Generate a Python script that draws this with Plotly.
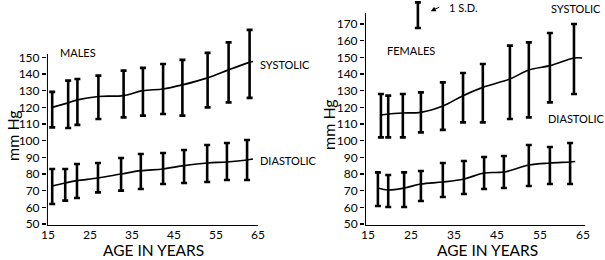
import plotly.graph_objects as go

# ---------------- data ----------------
# MALES
m_sys_age = [16, 19.8, 22, 27, 33, 37.6, 42.4, 47, 53, 58, 63]
m_sys_mean = [120, 122.7, 124.5, 126.5, 127, 130, 131, 133.5, 137.7, 142.5, 147]
m_sys_hi = [129.3, 136, 137, 139, 142, 143.7, 146, 148.5, 152.7, 159, 166.5]
m_sys_lo = [108, 107.6, 109.5, 113, 114, 115, 116, 115, 120, 123, 125.7]
m_sys_end = (63.8, 147.5)

m_dia_age = [16, 19.1, 21.9, 26.9, 32.4, 37.1, 42.4, 47.4, 52.9, 57.6, 62.4]
m_dia_mean = [72.8, 74.6, 76, 77.6, 80, 82, 83, 85, 86.6, 87.2, 88.4]
m_dia_hi = [83, 83, 86, 86.6, 89.6, 92, 92.6, 94.4, 97.4, 98.6, 100.4]
m_dia_lo = [62, 64, 65.6, 69, 70, 71, 74, 74.6, 75.2, 76.4, 76.4]
m_dia_end = (63.8, 89)

# FEMALES
f_sys_age = [18.0, 19.7, 23.1, 27.3, 32.4, 37.1, 41.7, 48.0, 52.4, 57.3, 62.9]
f_sys_mean = [115.4, 116, 116.6, 117, 120.8, 127, 132, 137, 142.4, 145, 149.6]
f_sys_hi = [128, 127, 128, 129, 135, 140.6, 146, 157, 159, 164.6, 170]
f_sys_lo = [102, 102, 102, 105, 106.5, 111, 111, 113, 114, 123, 128]
f_sys_end = (64.8, 149.6)

f_dia_age = [17.3, 19.7, 23.4, 27.3, 32.4, 37.3, 42.0, 46.6, 52.4, 57.3, 62.0]
f_dia_mean = [71.6, 70.4, 71.6, 74, 75.2, 77, 80.6, 81.2, 85.4, 86.6, 87.2]
f_dia_hi = [81, 79.4, 81, 81.8, 86.6, 87.8, 90.2, 90.8, 97.4, 96.2, 98.6]
f_dia_lo = [60.8, 60.2, 60.2, 63.8, 66.2, 68, 71, 71.6, 72.8, 74, 74]
f_dia_end = (63.2, 87.5)

# 1 S.D. key bar
sd_age = [26.6]
sd_hi = [183]
sd_lo = [167.6]

x_ticks = [15, 25, 35, 45, 55, 65]
m_y_ticks = [50, 60, 70, 80, 90, 100, 110, 120, 130, 140, 150]
f_y_ticks = [50, 60, 70, 80, 90, 100, 110, 120, 130, 140, 150, 160, 170]

FONT = "Lato"
fig = go.Figure()


def add_series(age, mean, hi, lo, end, xa, ya):
    fig.add_trace(go.Scatter(
        x=age + [end[0]], y=mean + [end[1]], mode="lines",
        line=dict(color="black", width=1.7, shape="spline", smoothing=1.0),
        xaxis=xa, yaxis=ya, hoverinfo="skip", showlegend=False))
    fig.add_trace(go.Scatter(
        x=age, y=mean, mode="markers",
        marker=dict(size=1, color="rgba(0,0,0,0)"),
        error_y=dict(type="data", symmetric=False,
                     array=[h - m for h, m in zip(hi, mean)],
                     arrayminus=[m - l for m, l in zip(mean, lo)],
                     color="black", thickness=2.6, width=3),
        xaxis=xa, yaxis=ya, hoverinfo="skip", showlegend=False))


add_series(m_sys_age, m_sys_mean, m_sys_hi, m_sys_lo, m_sys_end, "x", "y")
add_series(m_dia_age, m_dia_mean, m_dia_hi, m_dia_lo, m_dia_end, "x", "y")
add_series(f_sys_age, f_sys_mean, f_sys_hi, f_sys_lo, f_sys_end, "x2", "y2")
add_series(f_dia_age, f_dia_mean, f_dia_hi, f_dia_lo, f_dia_end, "x2", "y2")

# key bar
sd_mid = [(h + l) / 2 for h, l in zip(sd_hi, sd_lo)]
fig.add_trace(go.Scatter(
    x=sd_age, y=sd_mid, mode="markers",
    marker=dict(size=1, color="rgba(0,0,0,0)"),
    error_y=dict(type="data", symmetric=False,
                 array=[h - m for h, m in zip(sd_hi, sd_mid)],
                 arrayminus=[m - l for m, l in zip(sd_mid, sd_lo)],
                 color="black", thickness=2.6, width=3),
    xaxis="x2", yaxis="y2", hoverinfo="skip", showlegend=False, cliponaxis=False))

YR = [48.8, 184.4]
ydom = [1 - 226 / 260, 1.0]

xax_common = dict(showgrid=False, zeroline=False, showline=False, ticks="",
                  tickvals=x_ticks, tickfont=dict(family=FONT, size=12, color="black"),
                  fixedrange=True, automargin=False)
yax_common = dict(showgrid=False, zeroline=False, showline=False, ticks="outside",
                  ticklen=4, tickwidth=1.5, tickcolor="black", range=YR,
                  tickfont=dict(family=FONT, size=12, color="black"), fixedrange=True,
                  automargin=False)

fig.update_layout(
    width=605, height=260,
    margin=dict(l=0, r=0, t=0, b=0, autoexpand=False),
    paper_bgcolor="white", plot_bgcolor="white",
    xaxis=dict(domain=[46.95 / 605, 262.2 / 605], range=[14.75, 66.0], anchor="y", **xax_common),
    yaxis=dict(domain=ydom, anchor="x", tickvals=m_y_ticks, **yax_common),
    xaxis2=dict(domain=[365 / 605, 587.3 / 605], range=[14.3, 66.0], anchor="y2", **xax_common),
    yaxis2=dict(domain=ydom, anchor="x2", tickvals=f_y_ticks, **yax_common),
)

# hand-drawn style axis lines
shapes = [
    dict(type="line", xref="x", yref="y", x0=14.75, x1=14.75, y0=YR[0], y1=152, line=dict(color="black", width=2)),
    dict(type="line", xref="x", yref="y", x0=14.75, x1=65, y0=YR[0], y1=YR[0], line=dict(color="black", width=2)),
    dict(type="line", xref="x2", yref="y2", x0=14.3, x1=14.3, y0=YR[0], y1=176.6, line=dict(color="black", width=2)),
    dict(type="line", xref="x2", yref="y2", x0=14.3, x1=65.5, y0=YR[0], y1=YR[0], line=dict(color="black", width=2)),
]
fig.update_layout(shapes=shapes)

lab = dict(family=FONT, size=11, color="black")
ytitle = dict(family=FONT, size=16, color="black")
xtitle = dict(family="Liberation Sans Narrow, Lato", size=15.5, color="black")
ann = [
    dict(text="MALES", xref="x", yref="y", x=22.1, y=152.7, showarrow=False, font=lab),
    dict(text="SYSTOLIC", xref="x", yref="y", x=65.0, y=145.5, xanchor="left", showarrow=False, font=lab),
    dict(text="DIASTOLIC", xref="x", yref="y", x=65.0, y=88.4, xanchor="left", showarrow=False, font=lab),
    dict(text="FEMALES", xref="x2", yref="y2", x=25.0, y=154.4, showarrow=False, font=lab),
    dict(text="SYSTOLIC", xref="x2", yref="y2", x=63.4, y=179.6, showarrow=False, font=lab),
    dict(text="DIASTOLIC", xref="x2", yref="y2", x=63.6, y=113.6, showarrow=False, font=lab),
    dict(text="1 S.D.", xref="x2", yref="y2", x=33.4, y=180.2, xanchor="left", showarrow=False, font=lab),
    dict(text="", xref="x2", yref="y2", x=29.6, y=177.6, ax=10, ay=-5,
         showarrow=True, arrowhead=2, arrowsize=1, arrowwidth=1, arrowcolor="black"),
    dict(text="mm Hg", xref="paper", yref="paper", x=12 / 605, y=1 - 136 / 260, textangle=-90,
         xanchor="center", yanchor="middle", showarrow=False, font=ytitle),
    dict(text="mm Hg", xref="paper", yref="paper", x=328 / 605, y=1 - 124 / 260, textangle=-90,
         xanchor="center", yanchor="middle", showarrow=False, font=ytitle),
    dict(text="AGE IN YEARS", xref="paper", yref="paper", x=153 / 605, y=1 - 250 / 260,
         xanchor="center", yanchor="middle", showarrow=False, font=xtitle),
    dict(text="AGE IN YEARS", xref="paper", yref="paper", x=487 / 605, y=1 - 250 / 260,
         xanchor="center", yanchor="middle", showarrow=False, font=xtitle),
]
fig.update_layout(annotations=ann)

fig.write_html("out.html",
               config={"displayModeBar": False, "staticPlot": True},
               post_script="document.body.style.margin='0';document.body.style.padding='0';")
